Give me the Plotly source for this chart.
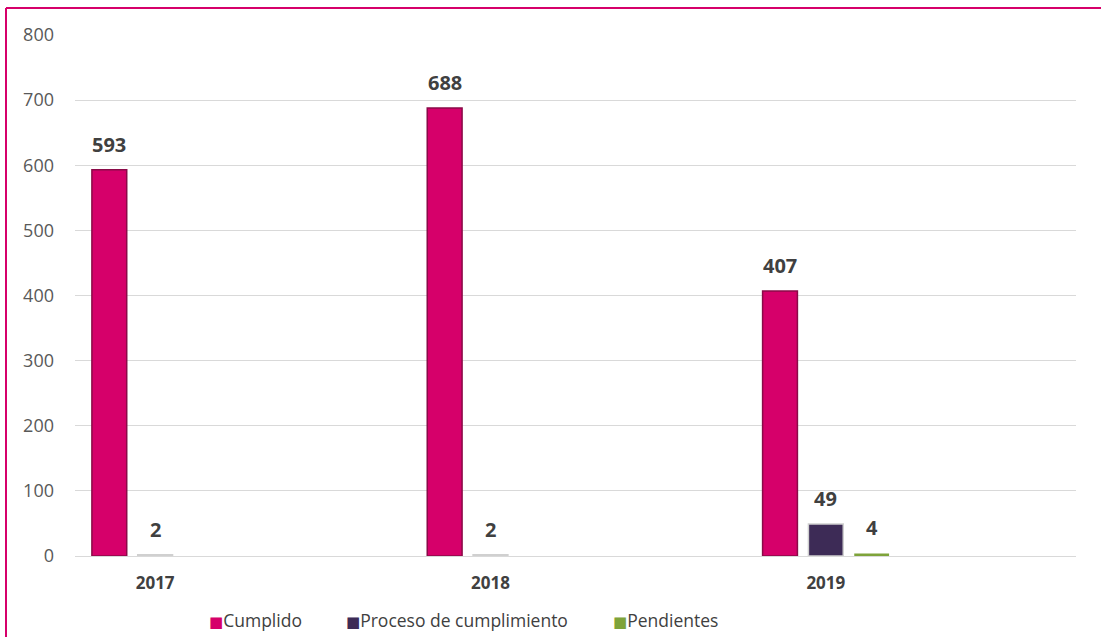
import plotly.graph_objects as go

years = ["2017", "2018", "2019"]
series_names = ["Cumplido", "Proceso de cumplimiento", "Pendientes"]
cumplido = [593, 688, 407]
proceso = [2, 2, 49]
pendientes = [0, 0, 4]
series_values = [cumplido, proceso, pendientes]
show_label = [[True, True, True], [True, True, True], [False, False, True]]
colors = ["#D6006A", "#3D2B56", "#7EA33A"]
edge_colors = ["#8a0a48", "#d0d0d0", "#9bbb59"]
edge_widths = [1.5, 1.5, 0]

xpos = list(range(len(years)))

# layout geometry
W, H = 1101, 637
ML, MR, MT, MB = 75, 25, 35, 81
plot_w = W - ML - MR
plot_h = H - MT - MB
x_range = [-0.239, 2.746]
bargap = 0.59
px_per_unit = plot_w / (x_range[1] - x_range[0])
slot_px = px_per_unit * (1 - bargap) / len(series_names)

fig = go.Figure()
for name, vals, c, ec, ew in zip(series_names, series_values, colors, edge_colors, edge_widths):
    fig.add_trace(go.Bar(name=name, x=xpos, y=vals, showlegend=False, hoverinfo="skip",
                         marker=dict(color=c, line=dict(color=ec, width=ew))))

annotations = []
for i, vals in enumerate(series_values):
    for j, v in enumerate(vals):
        if show_label[i][j]:
            annotations.append(dict(
                x=xpos[j], y=v, xref="x", yref="y", text="<b>%d</b>" % v,
                showarrow=False, xanchor="center", yanchor="bottom",
                xshift=(i - 1) * slot_px, yshift=10,
                font=dict(family="Open Sans", size=20, color="#404040")))

# legend drawn as annotations
legend_px = [207, 344, 611]
legend_y_px = 620
for name, c, lx in zip(series_names, colors, legend_px):
    annotations.append(dict(
        xref="paper", yref="paper", x=(lx - ML) / plot_w, y=(H - MB - legend_y_px) / plot_h,
        xanchor="left", yanchor="middle", showarrow=False,
        text="<span style='color:%s;font-family:DejaVu Sans;font-size:15px'>■</span>%s" % (c, name),
        font=dict(family="Open Sans", size=17.5, color="#404040")))

border_x = 6
border_y = 8
bx = (border_x - ML) / plot_w
by = (H - MB - border_y) / plot_h
bx_right = (W - ML) / plot_w

fig.update_layout(
    width=W, height=H,
    barmode="group", bargap=bargap, bargroupgap=0.24,
    paper_bgcolor="white", plot_bgcolor="white",
    margin=dict(l=ML, r=MR, t=MT, b=MB),
    font=dict(family="Open Sans", color="#595959"),
    showlegend=False,
    xaxis=dict(tickmode="array", tickvals=xpos, ticktext=["<b>%s</b>" % y for y in years],
               range=x_range, showgrid=False, zeroline=False,
               showline=False, tickfont=dict(size=17, color="#404040"), ticklen=0,
               ticklabelstandoff=15),
    yaxis=dict(range=[0, 800], dtick=100, showgrid=True, gridcolor="#d9d9d9", gridwidth=1,
               zeroline=True, zerolinecolor="#d9d9d9", zerolinewidth=1,
               tickfont=dict(size=18, color="#595959"), ticks="", ticklabelstandoff=20),
    annotations=annotations,
    shapes=[
        dict(type="line", xref="paper", yref="paper", x0=bx, x1=bx_right, y0=by, y1=by,
             line=dict(color="#D6006A", width=2)),
        dict(type="line", xref="paper", yref="paper", x0=bx, x1=bx, y0=by, y1=-MB / plot_h,
             line=dict(color="#D6006A", width=2)),
    ],
)
fig.write_html("out.html", config={"displayModeBar": False},
               post_script="document.body.style.margin='0';")
